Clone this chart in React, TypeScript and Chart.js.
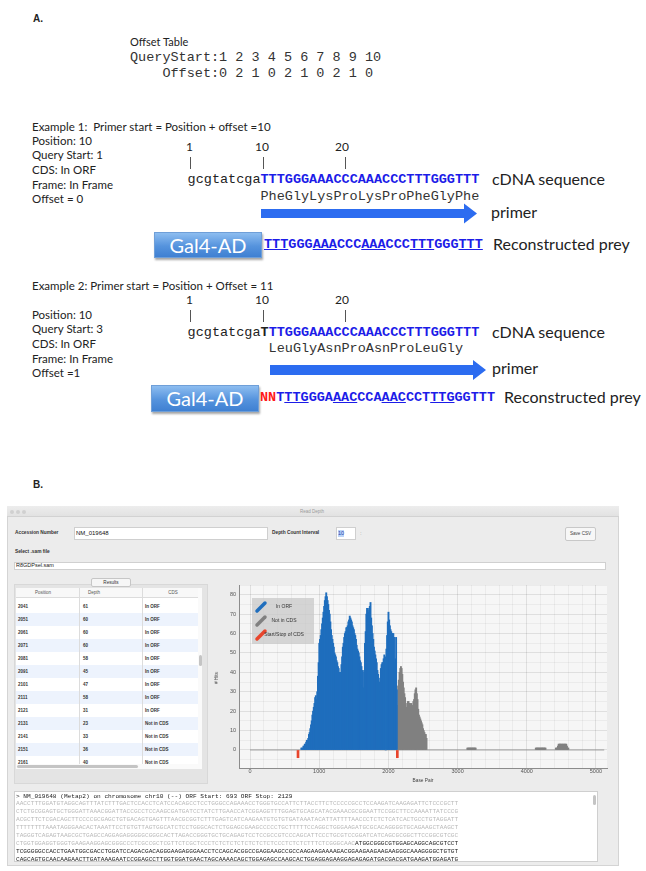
import React, { useEffect, useRef } from 'react';
import { Chart, registerables } from 'chart.js';

Chart.register(...registerables);

const SANS = '"Lato", "Open Sans", sans-serif';
const MONO = '"Liberation Mono", "DejaVu Sans Mono", monospace';
const UI = '"Liberation Sans", Arial, sans-serif';

// ---------- Panel A data ----------
const queryStarts = [1, 2, 3, 4, 5, 6, 7, 8, 9, 10];
const offsetValues = [0, 2, 1, 0, 2, 1, 0, 2, 1, 0];
const rulerMarks = ['1', '10', '20'];
const cdnaPrefix = 'gcgtatcga';
const ex1Insert = 'TTTGGGAAACCCAAACCCTTTGGGTTT';
const ex1Protein = 'PheGlyLysProLysProPheGlyPhe';
const ex2Insert = 'TTGGGAAACCCAAACCCTTTGGGTTT';
const ex2Protein = 'LeuGlyAsnProAsnProLeuGly';
const ex1Labels = ['Position: 10', 'Query Start: 1', 'CDS: In ORF', 'Frame: In Frame', 'Offset = 0'];
const ex2Labels = ['Position: 10', 'Query Start: 3', 'CDS: In ORF', 'Frame: In Frame', 'Offset =1'];

// ---------- Panel B data ----------
const orfStart = 693;
const orfStop = 2129;
const binSize = 10;
const transcriptSpan = [0, 5120];
const cdsMarkDepth = 4;
const xTickLabels = [0, 1000, 2000, 3000, 4000, 5000];
const yTickLabels = [0, 10, 20, 30, 40, 50, 60, 70, 80];

const inOrfStart = 741;
const inOrfDepth = [
  1, 1, 1, 2, 2, 3, 3, 4, 5, 5,
  6, 8, 9, 11, 13, 15, 18, 20, 22, 24,
  27, 28, 26, 30, 38, 45, 55, 57, 59, 62,
  65, 68, 71, 74, 77, 79, 81, 79, 77, 75,
  72, 70, 66, 62, 59, 57, 55, 53, 50, 49,
  48, 46, 45, 43, 42, 40, 39, 40, 44, 48,
  53, 55, 58, 60, 61, 63, 63, 64, 66, 67,
  69, 68, 67, 66, 64, 63, 62, 60, 59, 57,
  54, 52, 51, 50, 48, 46, 45, 43, 33, 41,
  32, 40, 55, 61, 70, 73, 72, 71, 73, 74,
  76, 68, 64, 60, 57, 53, 51, 49, 47, 45,
  41, 39, 37, 35, 30, 42, 44, 45, 45, 47,
  49, 48, 0, 52, 59, 66, 71, 67, 64, 62,
  61, 60, 60, 60, 58, 45, 47, 58, 31,
];
const notInCdsStart = 2131;
const notInCdsDepth = [
  23, 33, 36, 40, 42, 43, 42, 39, 35, 32,
  29, 27, 24, 22, 12, 25, 25, 24, 24, 23,
  24, 23, 22, 25, 26, 29, 31, 32, 29, 26,
  21, 18, 17, 16, 15, 14, 13, 11, 10, 9,
  8, 8, 6,
];
const tailBump1Start = 3141;
const tailBump1Depth = [1, 1, 1, 1, 1, 1, 1, 1, 1, 1, 1, 1, 1];
const tailBump2Start = 4131;
const tailBump2Depth = [1, 1, 1, 1, 1, 1, 1, 1, 1, 1, 1, 1, 1, 1, 1];
const tailBump3Start = 4421;
const tailBump3Depth = [1, 1, 1, 2, 3, 3, 3, 3, 3, 3, 3, 3, 3, 3, 3, 3, 2, 1, 1];

const tablePositions = [2041, 2051, 2061, 2071, 2081, 2091, 2101, 2111, 2121, 2131, 2141, 2151, 2161];
const tableDepths = [61, 60, 60, 60, 58, 45, 47, 58, 31, 23, 33, 36, 40];
const tableCds = ['In ORF', 'In ORF', 'In ORF', 'In ORF', 'In ORF', 'In ORF', 'In ORF', 'In ORF', 'In ORF', 'Not in CDS', 'Not in CDS', 'Not in CDS', 'Not in CDS'];

const seqHeader = `> NM_019648 (Metap2) on chromosome chr10 (--) ORF Start: ${orfStart} ORF Stop: ${orfStop}`;
const utrLines = [
  'AACCTTTGGATGTAGGCAGTTTATCTTTGACTCCACCTCATCCACAGCCTCCTGGGCCAGAAACCTGGGTGCCATTCTTACCTTCTCCCCCGCCTCCAAGATCAAGAGATTCTCCCGCTT',
  'CTCTGCGGAGTGCTGGGATTAAACGGATTACCGCCTCCAAGCGATGATCCTATCTTGAACCATCGGAGGTTTGGAGTGCAGCATACGAAACGCGGAATTCCGGCTTCCAAAATTATCCCG',
  'ACGCTTCTCGACAGCTTCCCCGCGAGCTGTGACAGTGAGTTTAACGCGGTCTTTGAGTCATCAAGAATGTGTGTGATAAATACATTATTTTAACCCTCTCTCATCACTGCCTGTAGGATT',
  'TTTTTTTTAAATAGGGAACACTAAATTCCTGTGTTAGTGGCATCTCCTGGGCACTCTGGAGCGAAGCCCCCTGCTTTTTCCAGGCTGGGAAGATGCGCACAGGGGTGCAGAAGCTAAGCT',
  'TAGGGTCAGAGTAAGCGCTGAGCCAGGAGAGGGGGCGGGCACTTAGACCGGGTGCTGCAGAGTCCTCCGCCGTCCCAGCATTCCCTGCGTCCGGATCATCAGCGCGGCTTCCGGCGTCGC',
];
const utrTail = 'CTGGTGGAGGTGGGTGAAGAAGGAGCGGGCCCTCGCCGCTCGTTCTCGCTCCCTCTCTCTCTCTCTCTCTCCCTCTCTCTTTCTCGGGCAAC';
const orfLines = [
  'ATGGCGGGCGTGGAGCAGGCAGCGTCCT',
  'TCGGGGGCCACCTGAATGGCGACCTGGATCCAGACGACAGGGAAGAGGGAACCTCCAGCACGGCCGAGGAAGCCGCCAAGAAGAAAAGACGGAAGAAGAAGAAGGGCAAAGGGGCTGTGT',
  'CAGCAGTGCAACAAGAACTTGATAAAGAATCCGGAGCCTTGGTGGATGAACTAGCAAAACAGCTGGAGAGCCAAGCACTGGAGGAGAAGGAGAGAGATGACGACGATGAAGATGGAGATG',
];

const BLUE = '#1f6ebd';
const GRAY = '#808080';
const RED = '#e8452c';
const SEQ_BLUE = '#1c1ce8';
const ARROW_BLUE = '#2c6cf0';

function toPoints(start: number, depth: number[]) {
  return depth.map((v, i) => ({ x: start + i * binSize, y: v }));
}

// ---------- helpers ----------
type TProps = {
  x: number; y: number; size: number; font?: string; color?: string; weight?: number;
  center?: boolean; children?: React.ReactNode; style?: React.CSSProperties;
};
function T({ x, y, size, font = SANS, color = '#222', weight = 400, center, children, style }: TProps) {
  const h = Math.round(size * 1.3 * 10) / 10;
  return (
    <div
      style={{
        position: 'absolute', left: x, top: y - h / 2, height: h, lineHeight: `${h}px`,
        fontSize: size, fontFamily: font, color, fontWeight: weight, whiteSpace: 'pre',
        transform: center ? 'translateX(-50%)' : undefined, ...style,
      }}
    >
      {children}
    </div>
  );
}

function GalBox({ x, y, w, h }: { x: number; y: number; w: number; h: number }) {
  return (
    <div
      style={{
        position: 'absolute', left: x, top: y, width: w, height: h, boxSizing: 'border-box',
        background: 'linear-gradient(#8dbdf0, #5593dd 55%, #3f80d2)', border: '1px solid #6f9fd8',
        boxShadow: '1px 2px 2px rgba(0,0,0,0.35)', color: '#fff', fontFamily: SANS, fontSize: 20,
        textAlign: 'center', lineHeight: `${h - 2}px`,
      }}
    >
      Gal4-AD
    </div>
  );
}

function Reconstructed({ x, y, lead, pre, seq, marks }: { x: number; y: number; lead: string; pre: string; seq: string; marks: number[] }) {
  const parts: React.ReactNode[] = [];
  for (let i = 0; i < seq.length; i += 3) {
    const codon = seq.slice(i, i + 3);
    const idx = i / 3;
    parts.push(
      <span key={i} style={{ textDecoration: marks.includes(idx) ? 'underline' : 'none', textUnderlineOffset: 1 }}>{codon}</span>,
    );
  }
  return (
    <T x={x} y={y} size={13.5} font={MONO} weight={700} color={SEQ_BLUE}>
      {lead ? <span style={{ color: '#ff1a1a' }}>{lead}</span> : null}
      {pre}
      {parts}
    </T>
  );
}

function Ruler({ y }: { y: number }) {
  const numX = [186, 255, 335];
  const barX = [190, 263, 344.5];
  return (
    <>
      {rulerMarks.map((m, i) => <T key={m} x={numX[i]} y={y} size={12}>{m}</T>)}
      {barX.map((bx) => (
        <div key={bx} style={{ position: 'absolute', left: bx, top: y + 10, width: 1, height: 12, background: '#555' }} />
      ))}
    </>
  );
}

function arrowPath(x0: number, xh: number, tip: number, cy: number, t: number, hh: number) {
  return `M${x0},${cy - t} L${xh},${cy - t} L${xh},${cy - hh} L${tip},${cy} L${xh},${cy + hh} L${xh},${cy + t} L${x0},${cy + t} Z`;
}

// ---------- chart ----------
function DepthChart() {
  const ref = useRef<HTMLCanvasElement | null>(null);
  useEffect(() => {
    if (!ref.current) return;
    const plotBg = {
      id: 'plotBg',
      beforeDraw(chart: any) {
        const { ctx, chartArea: a } = chart;
        ctx.save();
        ctx.fillStyle = '#f6f6f6';
        ctx.fillRect(a.left, a.top, a.right - a.left, a.bottom - a.top);
        ctx.restore();
      },
    };
    const legendLabels = ['In ORF', 'Not in CDS', 'Start/Stop of CDS'];
    const insetLegend = {
      id: 'insetLegend',
      afterDatasetsDraw(chart: any) {
        const { ctx, chartArea: a } = chart;
        const x = a.left + 13, y = a.top + 13, w = 62, h = 46;
        ctx.save();
        ctx.fillStyle = 'rgba(200,200,200,0.75)';
        ctx.fillRect(x, y, w, h);
        const items = chart.data.datasets.filter((d: any) => legendLabels.includes(d.label));
        items.forEach((d: any, i: number) => {
          const cy = y + 9 + i * 14;
          ctx.strokeStyle = d.backgroundColor;
          ctx.lineWidth = 3.5;
          ctx.lineCap = 'round';
          ctx.beginPath();
          ctx.moveTo(x + 5, cy + 4);
          ctx.lineTo(x + 13, cy - 4);
          ctx.stroke();
          ctx.fillStyle = '#333';
          ctx.font = '5px "Liberation Sans"';
          ctx.textAlign = 'center';
          ctx.textBaseline = 'middle';
          ctx.fillText(d.label, x + w / 2 + 1, cy);
        });
        ctx.restore();
      },
    };
    const gray = [
      ...toPoints(notInCdsStart, notInCdsDepth),
      ...toPoints(tailBump1Start, tailBump1Depth),
      ...toPoints(tailBump2Start, tailBump2Depth),
      ...toPoints(tailBump3Start, tailBump3Depth),
    ];
    const chart = new Chart(ref.current, {
      type: 'bar',
      data: {
        datasets: [
          {
            type: 'line', label: 'baseline', order: 10,
            data: transcriptSpan.map((x) => ({ x, y: 0 })),
            borderColor: '#9c9c9c', borderWidth: 1, pointRadius: 0, fill: false,
          } as any,
          {
            label: 'In ORF', data: toPoints(inOrfStart, inOrfDepth), backgroundColor: BLUE,
            grouped: false, barThickness: 1.25, borderWidth: 0, order: 1,
          },
          {
            label: 'Not in CDS', data: gray, backgroundColor: GRAY,
            grouped: false, barThickness: 1.25, borderWidth: 0, order: 1,
          },
          {
            label: 'Start/Stop of CDS', data: [orfStart, orfStop].map((x) => ({ x, y: -cdsMarkDepth })),
            backgroundColor: RED, grouped: false, barThickness: 2, borderWidth: 0, order: 0,
          },
        ] as any,
      },
      options: {
        animation: false,
        responsive: false,
        maintainAspectRatio: false,
        layout: { padding: { top: 7, right: 7, left: 0, bottom: 0 } },
        plugins: { legend: { display: false }, tooltip: { enabled: false } },
        scales: {
          x: {
            type: 'linear', min: -160, max: 5160, offset: false,
            afterFit: (s: any) => { s.height = 25; },
            grid: {
              offset: false, drawTicks: false,
              color: (c: any) => (c.tick && xTickLabels.includes(c.tick.value) ? 'rgba(0,0,0,0.09)' : 'rgba(0,0,0,0.045)'),
            },
            border: { display: true, color: '#8c8c8c', width: 1 },
            ticks: {
              stepSize: 200, autoSkip: false, maxRotation: 0, includeBounds: false, padding: 0,
              color: '#555', font: { family: 'Liberation Sans', size: 5.5 },
              callback: (v: any) => (xTickLabels.includes(Number(v)) ? String(v) : ''),
            },
          },
          y: {
            type: 'linear', min: -9.3, max: 85,
            afterFit: (s: any) => { s.width = 29; },
            grid: {
              drawTicks: false,
              color: (c: any) => (c.tick && yTickLabels.includes(c.tick.value) ? 'rgba(0,0,0,0.09)' : 'rgba(0,0,0,0.045)'),
            },
            border: { display: true, color: '#8c8c8c', width: 1 },
            ticks: {
              stepSize: 5, autoSkip: false, includeBounds: false, padding: 3,
              color: '#555', font: { family: 'Liberation Sans', size: 5.5 },
              callback: (v: any) => (yTickLabels.includes(Number(v)) ? String(v) : ''),
            },
          },
        },
      } as any,
      plugins: [plotBg, insetLegend],
    });
    return () => chart.destroy();
  }, []);
  return <canvas ref={ref} width={404} height={215} style={{ position: 'absolute', left: 210, top: 578, width: 404, height: 215 }} />;
}

// ---------- App ----------
export default function App() {
  const rowH = 13;
  return (
    <div style={{ position: 'absolute', left: 0, top: 0, width: 646, height: 871, background: '#fff', overflow: 'hidden' }}>
      {/* ===== Panel A ===== */}
      <T x={33} y={18} size={10} weight={700} font={UI}>A.</T>
      <T x={130} y={42} size={11}>Offset Table</T>
      <T x={130} y={58} size={13.5} font={MONO} color="#333">{'QueryStart:' + queryStarts.join(' ')}</T>
      <T x={130} y={74} size={13.5} font={MONO} color="#333">{'    Offset:' + offsetValues.join(' ')}</T>

      {/* Example 1 */}
      <T x={32} y={126} size={11.5}>Example 1:  Primer start = Position + offset =10</T>
      {ex1Labels.map((s, i) => <T key={s + i} x={32} y={140 + i * 14.7} size={11.5}>{s}</T>)}
      <Ruler y={147} />
      <T x={187.6} y={180} size={13.5} font={MONO} color="#222">
        {cdnaPrefix}<span style={{ color: SEQ_BLUE, fontWeight: 700 }}>{ex1Insert}</span>
      </T>
      <T x={492} y={179} size={16}>cDNA sequence</T>
      <T x={260.5} y={197} size={13.5} font={MONO} color="#333">{ex1Protein}</T>
      <T x={491} y={212} size={16}>primer</T>
      <GalBox x={154} y={232} w={108} h={26} />
      <Reconstructed x={264} y={245} lead="" pre="" seq={ex1Insert} marks={[0, 2, 4, 6, 8]} />
      <T x={493} y={244} size={16}>Reconstructed prey</T>

      {/* Example 2 */}
      <T x={32} y={285} size={11.5}>Example 2: Primer start = Position + Offset = 11</T>
      {ex2Labels.map((s, i) => <T key={s + i} x={32} y={314 + i * 14.7} size={11.5}>{s}</T>)}
      <Ruler y={300} />
      <T x={187.6} y={333} size={13.5} font={MONO} color="#222">
        {cdnaPrefix}<span style={{ fontWeight: 700 }}>T</span><span style={{ color: SEQ_BLUE, fontWeight: 700 }}>{ex2Insert}</span>
      </T>
      <T x={492} y={332} size={16}>cDNA sequence</T>
      <T x={268.6} y={349} size={13.5} font={MONO} color="#333">{ex2Protein}</T>
      <T x={492} y={368} size={16}>primer</T>
      <GalBox x={151} y={385} w={108} h={27} />
      <Reconstructed x={260} y={397.5} lead="NN" pre="T" seq={ex2Insert} marks={[0, 2, 4, 6]} />
      <T x={504} y={397} size={16}>Reconstructed prey</T>

      <svg width={646} height={420} style={{ position: 'absolute', left: 0, top: 0 }}>
        <path d={arrowPath(261, 464, 477, 213.5, 4.5, 10)} fill={ARROW_BLUE} />
        <path d={arrowPath(270, 473, 486, 370, 5, 10)} fill={ARROW_BLUE} />
      </svg>

      {/* ===== Panel B ===== */}
      <T x={33} y={484} size={10} weight={700} font={UI}>B.</T>
      <div style={{ position: 'absolute', left: 7, top: 506, width: 612, height: 360, background: '#ececec', border: '1px solid #d4d4d4', boxSizing: 'border-box' }} />
      <div style={{ position: 'absolute', left: 7, top: 506, width: 612, height: 11, background: 'linear-gradient(#ededed, #e2e2e2)', borderBottom: '1px solid #d2d2d2', boxSizing: 'border-box' }} />
      {[12, 18, 24].map((cx) => (
        <div key={cx} style={{ position: 'absolute', left: cx - 2, top: 509.5, width: 4, height: 4, borderRadius: 2, background: '#d0d0d0' }} />
      ))}
      <T x={312} y={511.5} size={4.5} font={UI} color="#9a9a9a" center>Read Depth</T>

      <T x={15} y={533} size={4.8} font={UI} weight={700} color="#333">Accession Number</T>
      <div style={{ position: 'absolute', left: 74, top: 527, width: 194, height: 13, background: '#fff', border: '1px solid #cfcfcf', boxSizing: 'border-box' }} />
      <T x={76} y={533.5} size={6} font={UI} color="#111">NM_019648</T>
      <T x={272} y={533} size={4.8} font={UI} weight={700} color="#333">Depth Count Interval</T>
      <div style={{ position: 'absolute', left: 336, top: 527, width: 20, height: 13, background: '#fff', border: '1px solid #cfcfcf', boxSizing: 'border-box' }} />
      <T x={338} y={533.5} size={5.5} font={UI} color="#1a3fb0" style={{ background: '#bcd4f6' }}>10</T>
      <T x={360} y={533.5} size={6} font={UI} color="#999">:</T>
      <div style={{ position: 'absolute', left: 565, top: 527, width: 31, height: 14, background: '#f7f7f7', border: '1px solid #c8c8c8', borderRadius: 2, boxSizing: 'border-box' }} />
      <T x={580.5} y={534} size={4.6} font={UI} color="#444" center>Save CSV</T>

      <T x={15} y={552} size={4.8} font={UI} weight={700} color="#333">Select .sam file</T>
      <div style={{ position: 'absolute', left: 14, top: 562, width: 592, height: 8, background: '#fff', border: '1px solid #d0d0d0', boxSizing: 'border-box' }} />
      <T x={16} y={566} size={5.5} font={UI} color="#222">R8GDPsel.sam</T>

      <div style={{ position: 'absolute', left: 14, top: 584, width: 194, height: 200, background: '#e4e4e4', border: '1px solid #d8d8d8', boxSizing: 'border-box' }} />
      <div style={{ position: 'absolute', left: 91, top: 578, width: 40, height: 9, background: '#f6f6f6', border: '1px solid #c6c6c6', borderRadius: 2, boxSizing: 'border-box' }} />
      <T x={111} y={582.5} size={4.6} font={UI} color="#333" center>Results</T>

      {/* table */}
      <div style={{ position: 'absolute', left: 16, top: 588, width: 186, height: 181, background: '#fff', overflow: 'hidden' }}>
        <div style={{ position: 'absolute', left: 0, top: 0, width: 186, height: 10, background: '#f8f8f8', borderBottom: '1px solid #dcdcdc', boxSizing: 'border-box' }} />
        <T x={27} y={5} size={4.5} font={UI} color="#555" center>Position</T>
        <T x={78} y={5} size={4.5} font={UI} color="#555" center>Depth</T>
        <T x={157} y={5} size={4.5} font={UI} color="#555" center>CDS</T>
        {tablePositions.map((p, i) => (
          <div key={p} style={{ position: 'absolute', left: 0, top: 12 + i * rowH, width: 186, height: rowH, background: i % 2 === 0 ? '#fff' : '#edf3fd' }}>
            <T x={2} y={rowH / 2} size={4.5} font={UI} weight={700} color="#333">{String(p)}</T>
            <T x={67} y={rowH / 2} size={4.5} font={UI} weight={700} color="#333">{String(tableDepths[i])}</T>
            <T x={129} y={rowH / 2} size={4.5} font={UI} weight={700} color="#333">{tableCds[i]}</T>
          </div>
        ))}
        <div style={{ position: 'absolute', left: 63, top: 0, width: 1, height: 181, background: '#dcdcdc' }} />
        <div style={{ position: 'absolute', left: 126, top: 0, width: 1, height: 181, background: '#dcdcdc' }} />
        <div style={{ position: 'absolute', left: 186 - 4, top: 0, width: 4, height: 181, background: '#fafafa' }} />
        <div style={{ position: 'absolute', left: 186 - 3.5, top: 67, width: 3, height: 11, borderRadius: 2, background: '#c4c4c4' }} />
        <div style={{ position: 'absolute', left: 0, top: 176, width: 186, height: 5, background: '#fafafa' }} />
        <div style={{ position: 'absolute', left: 1, top: 177, width: 121, height: 3, borderRadius: 2, background: '#c4c4c4' }} />
      </div>

      {/* chart */}
      <DepthChart />
      <T x={217} y={678} size={4.6} font={UI} color="#444" center style={{ transform: 'translateX(-50%) rotate(-90deg)' }}># Hits</T>
      <T x={423} y={781} size={4.8} font={UI} color="#444" center>Base Pair</T>

      {/* sequence text area */}
      <div style={{ position: 'absolute', left: 14, top: 791, width: 584, height: 71, background: '#fff', border: '1px solid #cfcfcf', boxSizing: 'border-box', overflow: 'hidden' }}>
        <div style={{ position: 'absolute', right: 1, top: 3, width: 3, height: 10, borderRadius: 2, background: '#c4c4c4' }} />
      </div>
      <T x={16} y={796.5} size={6.15} font={MONO} color="#222">{seqHeader}</T>
      {utrLines.map((s, i) => (
        <T key={i} x={16} y={804.4 + i * 7.9} size={6.15} font={MONO} color="#b9b9b9">{s}</T>
      ))}
      <T x={16} y={804.4 + 5 * 7.9} size={6.15} font={MONO} color="#b9b9b9">
        {utrTail}<span style={{ color: '#222' }}>{orfLines[0]}</span>
      </T>
      {orfLines.slice(1).map((s, i) => (
        <T key={'o' + i} x={16} y={804.4 + (6 + i) * 7.9} size={6.15} font={MONO} color="#222">{s}</T>
      ))}
    </div>
  );
}
